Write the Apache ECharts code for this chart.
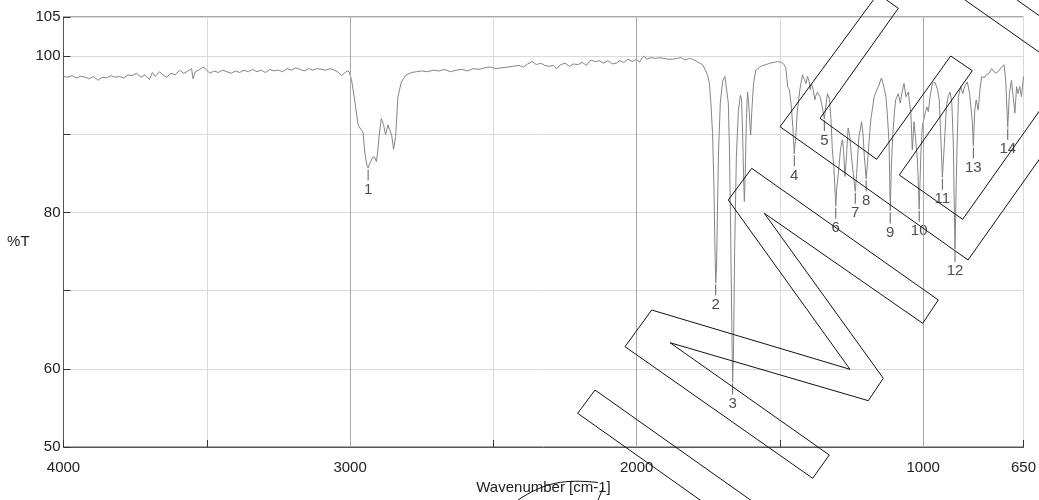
<!DOCTYPE html>
<html><head><meta charset="utf-8">
<script src="https://cdn.jsdelivr.net/npm/echarts/dist/echarts.min.js"></script>
<style>html,body{margin:0;padding:0;background:#fff}#c{width:1039px;height:500px}</style>
</head><body><div id="c"></div>
<script>
const wavenumbers = [4000,3985,3970,3955,3940,3925,3910,3895,3880,3865,3850,3835,3820,3805,3790,3775,3760,3745,3730,3715,3700,3690,3680,3665,3650,3640,3625,3610,3595,3580,3565,3553,3548,3540,3525,3513,3500,3489,3475,3460,3445,3430,3415,3400,3385,3370,3355,3340,3325,3310,3295,3280,3265,3250,3235,3220,3205,3190,3175,3160,3145,3130,3115,3100,3085,3070,3055,3040,3030,3020,3010,3003,
2995,2984,2972,2962,2955,2948,2941,2937,2932,2928,2922,2915,2908,2903,2899,2891,2883,2876,2868,2862,2855,2848,2841,2833,2821,2804,2785,2769,
2750,2730,2710,2690,2670,2650,2630,2610,2590,2570,2550,2530,2510,2490,2470,2450,2430,2410,2395,2380,2364,2350,2335,2320,2305,2290,2280,2265,2250,2235,2220,2205,2190,2175,2160,2154,2145,2130,2115,2100,2085,2070,2060,2045,2030,2015,2000,1990,1980,1973,1965,1950,1935,1920,1905,1890,1876,1860,1845,1830,1815,1805,1790,1780,1770,1760,1752,1746,1740,1735,1730,1727,1724,1721,1718,1714,1708,1700,1692,1686,1680,1676,1672,1668,1665,1662,1658,1652,1645,1638,1634,1630,1627,1624,1621,1617,1613,1609,1605,1602,1598,1592,1584,1570,1560,1549,1535,1520,1508,1495,1485,1479,1473,1467,1460,1455,1450,1445,1439,1430,1421,1415,1409,1404,1398,1394,1390,1386,1382,1378,1374,1369,1364,1360,1355,1350,1345,1340,1334,1331,1327,1322,1317,1312,1308,1305,1302,1296,1290,1287,1282,1278,1273,1268,1262,1257,1250,1244,1237,1232,1225,1215,1210,1205,1199,1194,1188,1183,1171,1160,1154,1146,1140,1135,1130,1125,1119,1115,1111,1106,1100,1096,1087,1080,1073,1067,1060,1052,1043,1038,1032,1026,1020,1014,1008,1003,993,987,982,976,968,959,950,944,940,933,926,919,913,906,900,895,889,883,877,869,862,855,846,838,829,825,820,815,808,802,796,788,779,770,761,753,745,735,726,718,712,705,699,692,686,680,674,669,663,657,650];
const transmittance = [97.4,97.3,97.5,97.2,97.4,97.3,97.1,97.4,96.9,97.3,97.2,97.5,97.3,97.4,97.2,97.6,97.5,97.8,97.3,97.6,97.0,97.9,97.4,98.0,97.5,97.3,97.8,97.6,98.2,97.8,98.1,98.4,97.1,98.0,98.3,98.6,98.2,97.8,98.1,97.9,98.2,98.0,97.8,98.1,97.9,98.2,98.0,98.3,98.0,98.2,97.9,98.3,98.1,98.2,98.0,98.4,98.2,98.5,98.3,98.1,98.4,98.2,98.4,98.3,98.2,98.4,98.2,97.9,97.5,97.8,98.1,98.0,
97.0,94.4,91.2,90.6,90.3,87.5,86.0,85.7,86.2,86.5,87.0,87.1,86.5,88.0,89.7,92.0,91.2,89.9,91.2,91.4,89.9,88.1,89.7,94.8,96.7,97.6,97.9,98.0,
98.1,98.0,98.2,98.1,98.3,98.0,98.2,98.3,98.1,98.4,98.3,98.5,98.6,98.4,98.5,98.6,98.7,98.8,98.6,99.0,99.3,98.9,99.1,98.8,98.7,98.8,98.4,98.9,99.1,98.7,99.0,98.9,99.2,98.8,99.5,99.7,99.3,99.4,99.1,99.4,99.0,99.1,99.4,99.2,99.6,99.3,99.6,99.2,99.8,100.0,99.6,99.8,99.7,99.8,99.7,99.6,99.6,99.7,99.8,99.5,99.7,99.6,99.3,99.1,98.9,98.2,97.5,96.5,93.5,90.1,83.0,76.0,71.0,73.0,80.0,88.0,94.0,96.8,97.4,97.2,94.0,88.0,78.0,66.0,58.3,62.0,75.0,87.0,93.0,95.0,94.5,90.0,85.0,81.4,85.0,92.0,95.4,94.0,91.5,89.9,93.0,96.5,98.2,98.6,98.8,98.9,99.1,99.2,99.3,99.2,98.9,98.4,96.1,95.7,93.5,91.0,87.5,89.5,93.1,95.8,97.6,97.0,96.5,97.4,96.8,95.7,96.4,96.1,95.3,94.4,95.0,95.4,95.3,94.8,94.0,93.0,92.0,93.5,95.2,95.4,94.5,92.0,88.0,85.9,83.0,80.8,83.0,85.0,87.5,88.4,89.3,88.0,84.6,87.0,90.8,90.0,87.0,85.0,82.7,85.0,89.5,91.6,90.0,87.0,84.3,86.5,89.5,91.8,94.8,95.8,96.3,97.2,96.5,95.7,94.8,92.5,88.8,80.2,86.0,90.0,93.0,94.4,95.2,94.0,95.5,96.5,94.8,95.4,92.7,88.0,91.6,91.4,86.7,80.4,87.6,91.0,92.7,93.5,92.9,94.8,96.5,96.7,95.7,94.4,91.0,84.5,88.8,93.5,94.8,95.4,94.0,88.9,75.3,86.7,94.8,96.1,95.2,96.1,96.7,95.2,91.8,88.5,93.1,94.4,93.1,95.7,97.4,97.2,97.6,97.8,98.4,98.0,97.8,98.2,98.6,98.9,96.9,90.9,95.2,96.9,94.8,92.7,96.1,95.2,96.1,94.8,97.4];
const peakNumbers = ['1','2','3','4','5','6','7','8','9','10','11','12','13','14'];
const peakWavenumbers = [2937,1724,1665,1450,1345,1305,1237,1199,1115,1014,933,889,825,705];
const peakTransmittance = [85.7,71.0,58.3,87.5,92.0,80.8,82.7,84.3,80.2,80.4,84.5,75.3,88.5,90.9];
const xTickValues = [4000,3500,3000,2500,2000,1500,1000,650];
const xLabelValues = [4000,3000,2000,1000,650];
const xMajorGridValues = [3000,2000,1000];
const yTickValues = [50,60,70,80,90,100,105];
const yLabelValues = [50,60,80,100,105];

const font = '"Liberation Sans", Arial, Helvetica, sans-serif';
const wmStyle = {fill: 'none', stroke: '#111', lineWidth: 1};
function wmPoly(points) { return {type: 'polygon', silent: true, z: 100, shape: {points: points}, style: wmStyle}; }
function wmLine(points) { return {type: 'polyline', silent: true, z: 100, shape: {points: points}, style: wmStyle}; }

const chart = echarts.init(document.getElementById('c'), null, {renderer: 'canvas'});
const option = {
  animation: false,
  grid: {left: 63.5, right: 14, top: 17, bottom: 53, show: true, borderColor: '#555', borderWidth: 1},
  xAxis: {
    type: 'value', min: 650, max: 4000, inverse: true,
    name: 'Wavenumber [cm-1]', nameLocation: 'middle', nameGap: 33,
    nameTextStyle: {fontFamily: font, fontSize: 15, color: '#222'},
    axisLine: {show: true, lineStyle: {color: '#555'}},
    axisTick: {show: true, inside: true, length: 7, customValues: xTickValues, lineStyle: {color: '#333'}},
    axisLabel: {customValues: xLabelValues, margin: 13, fontFamily: font, fontSize: 15, color: '#222',
      formatter: v => String(v)},
    splitLine: {show: true, lineStyle: {color: '#dadada', width: 1}}
  },
  yAxis: {
    type: 'value', min: 50, max: 105,
    name: '%T', nameLocation: 'middle', nameGap: 30, nameRotate: 0,
    nameTextStyle: {fontFamily: font, fontSize: 15, color: '#222', align: 'right', verticalAlign: 'top', lineHeight: 20},
    axisLine: {show: true, lineStyle: {color: '#555'}},
    axisTick: {show: true, inside: true, length: 7, customValues: yTickValues, lineStyle: {color: '#333'}},
    axisLabel: {customValues: yLabelValues, margin: 3, fontFamily: font, fontSize: 15, color: '#222',
      formatter: v => String(v)},
    splitLine: {show: true, lineStyle: {color: '#dadada', width: 1}}
  },
  graphic: [
    // watermark outlines (decorative overlay)
    wmPoly([[577.7,413.3],[595,390],[800,535],[782,558]]),
    wmPoly([[751.7,168.3],[938.3,300],[922.7,323.3],[764.3,213.3],[883.3,378.3],[868.3,400.7],[670,342.7],[829.3,455],[812.7,478.3],[625,346.7],[651.7,310],[850,369.3],[728.3,200]]),
    wmPoly([[780,126.7],[877.9,-6.2],[898.3,8.3],[820,118.3],[876.7,159.3],[950.7,56],[972.3,70.7],[899.3,175],[962.7,219.3],[1049.4,96.9],[1054.7,137.6],[968,260]]),
    wmLine([[965,0],[1039,52]]),
    wmLine([[1017,0],[1039,15.5]]),
    {type: 'bezierCurve', silent: true, z: 100, shape: {x1: 518, y1: 500, cpx1: 545, cpy1: 482, x2: 598, y2: 482.5, cpx2: 565, cpy2: 479}, style: wmStyle},
    wmLine([[603,488],[598,500]])
  ],
  series: [
    {
      type: 'line', symbol: 'none', silent: true,
      data: wavenumbers.map((w, i) => [w, transmittance[i]]),
      lineStyle: {color: '#858585', width: 1},
      markLine: {
        silent: true, symbol: ['none', 'none'], label: {show: false},
        lineStyle: {color: '#a8a8a8', type: 'solid', width: 1},
        data: xMajorGridValues.map(v => ({xAxis: v}))
      },
      z: 3
    },
    {
      type: 'scatter', silent: true,
      data: peakWavenumbers.map((w, i) => [w, peakTransmittance[i], peakNumbers[i]]),
      symbol: 'rect', symbolSize: [1, 11], symbolOffset: [0, 7],
      itemStyle: {color: '#333'},
      label: {show: true, position: 'bottom', distance: 2, formatter: p => p.data[2],
        fontFamily: font, fontSize: 15, color: '#222'},
      z: 4
    }
  ]
};
chart.setOption(option);
</script></body></html>
